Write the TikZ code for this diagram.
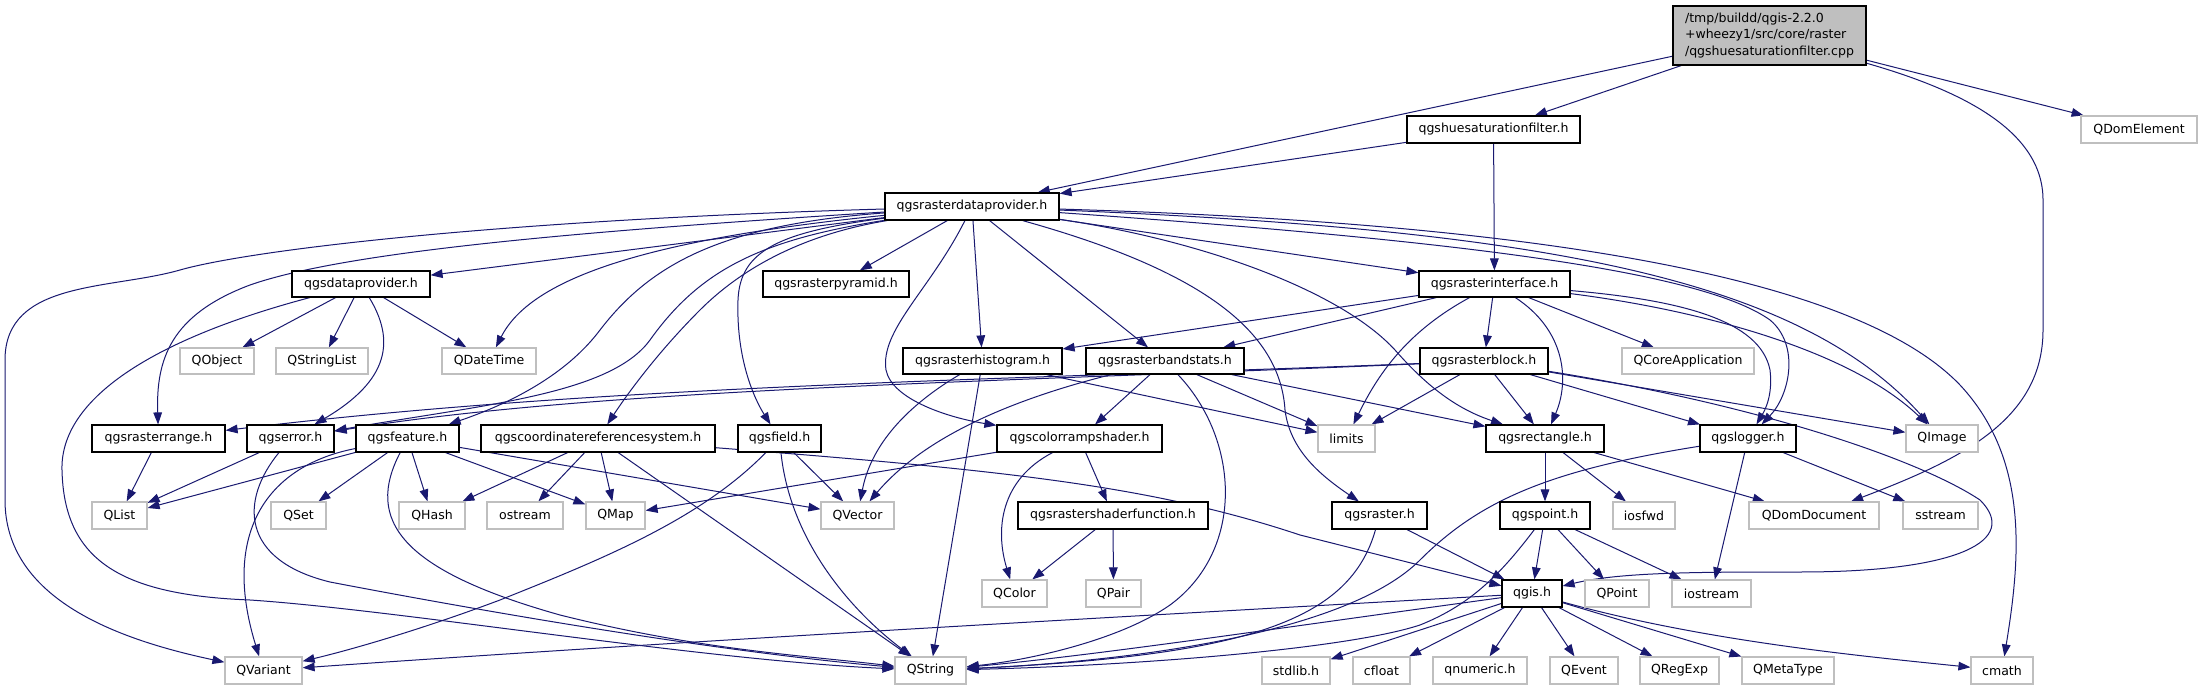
\documentclass[tikz,border=0pt]{standalone}
\usepackage{fontspec}
\newfontfamily\dvs{DejaVu Sans}
\usetikzlibrary{arrows.meta,backgrounds}
\definecolor{edgeblue}{HTML}{191970}
\definecolor{extgray}{HTML}{BFBFBF}
\definecolor{rootgray}{HTML}{BFBFBF}
\tikzset{
 nodefont/.style={font=\dvs\fontsize{9.4pt}{12.4pt}\selectfont},
 docbox/.style={draw=black, line width=0.9pt, fill=white, inner sep=0pt, nodefont},
 extbox/.style={draw=extgray, line width=0.9pt, fill=white, inner sep=0pt, nodefont},
 rootbox/.style={draw=black, line width=0.9pt, fill=rootgray, inner sep=0pt, align=left, nodefont},
 dep/.style={draw=edgeblue, line width=0.75pt, -{Triangle[length=9pt,width=6.5pt]}},
}
\newcommand\bx[7]{\node[#1, minimum width={(#5-#3)*0.75pt}, minimum height={(#6-#4)*0.75pt}] (#2) at ({(#3+#5)/2},{(#4+#6)/2}) {#7};}
\begin{document}
\begin{tikzpicture}[x=0.75pt,y=-0.75pt]
\useasboundingbox (0,0) rectangle (2201,691);
% nodes
\bx{rootbox}{root}{1673}{6}{1866}{65}{/tmp/buildd/qgis-2.2.0\\+wheezy1/src/core/raster\\/qgshuesaturationfilter.cpp}
\bx{docbox}{hsf}{1407}{116}{1580}{143}{qgshuesaturationfilter.h}
\bx{extbox}{qdomel}{2081}{116}{2197}{143}{QDomElement}
\bx{docbox}{rdp}{885}{193}{1059}{220}{qgsrasterdataprovider.h}
\bx{docbox}{dp}{292}{271}{430}{297}{qgsdataprovider.h}
\bx{docbox}{pyr}{763}{271}{909}{297}{qgsrasterpyramid.h}
\bx{docbox}{rif}{1419}{271}{1570}{297}{qgsrasterinterface.h}
\bx{extbox}{qobject}{180}{348}{254}{374}{QObject}
\bx{extbox}{qstrlist}{276}{348}{368}{374}{QStringList}
\bx{extbox}{qdatetime}{442}{348}{536}{374}{QDateTime}
\bx{docbox}{hist}{903}{348}{1062}{374}{qgsrasterhistogram.h}
\bx{docbox}{bstats}{1086}{348}{1244}{374}{qgsrasterbandstats.h}
\bx{docbox}{block}{1420}{348}{1548}{374}{qgsrasterblock.h}
\bx{extbox}{qcoreapp}{1622}{348}{1754}{374}{QCoreApplication}
\bx{docbox}{rrange}{92}{425}{225}{452}{qgsrasterrange.h}
\bx{docbox}{err}{247}{425}{334}{452}{qgserror.h}
\bx{docbox}{feat}{356}{425}{459}{452}{qgsfeature.h}
\bx{docbox}{crs}{481}{425}{715}{452}{qgscoordinatereferencesystem.h}
\bx{docbox}{field}{738}{425}{821}{452}{qgsfield.h}
\bx{docbox}{cshader}{997}{425}{1162}{452}{qgscolorrampshader.h}
\bx{extbox}{limits}{1318}{425}{1375}{452}{limits}
\bx{docbox}{rect}{1486}{425}{1604}{452}{qgsrectangle.h}
\bx{docbox}{logger}{1700}{425}{1796}{452}{qgslogger.h}
\bx{extbox}{qimage}{1906}{425}{1978}{452}{QImage}
\bx{extbox}{qlist}{92}{502}{147}{529}{QList}
\bx{extbox}{qset}{271}{502}{326}{529}{QSet}
\bx{extbox}{qhash}{399}{502}{465}{529}{QHash}
\bx{extbox}{ostream}{487}{502}{563}{529}{ostream}
\bx{extbox}{qmap}{586}{502}{645}{529}{QMap}
\bx{extbox}{qvector}{821}{502}{894}{529}{QVector}
\bx{docbox}{shfun}{1018}{502}{1208}{529}{qgsrastershaderfunction.h}
\bx{docbox}{raster}{1332}{502}{1427}{529}{qgsraster.h}
\bx{docbox}{point}{1500}{502}{1590}{529}{qgspoint.h}
\bx{extbox}{iosfwd}{1613}{502}{1675}{529}{iosfwd}
\bx{extbox}{qdomdoc}{1749}{502}{1879}{529}{QDomDocument}
\bx{extbox}{sstream}{1903}{502}{1978}{529}{sstream}
\bx{extbox}{qcolor}{982}{580}{1047}{607}{QColor}
\bx{extbox}{qpair}{1086}{580}{1141}{607}{QPair}
\bx{docbox}{qgis}{1502}{580}{1562}{607}{qgis.h}
\bx{extbox}{qpoint}{1585}{580}{1649}{607}{QPoint}
\bx{extbox}{iostream}{1672}{580}{1751}{607}{iostream}
\bx{extbox}{qvariant}{225}{657}{302}{684}{QVariant}
\bx{extbox}{qstring}{895}{657}{966}{684}{QString}
\bx{extbox}{stdlib}{1262}{657}{1330}{684}{stdlib.h}
\bx{extbox}{cfloat}{1353}{657}{1410}{684}{cfloat}
\bx{extbox}{qnumeric}{1433}{657}{1527}{684}{qnumeric.h}
\bx{extbox}{qevent}{1550}{657}{1618}{684}{QEvent}
\bx{extbox}{qregexp}{1640}{657}{1719}{684}{QRegExp}
\bx{extbox}{qmetatype}{1742}{657}{1834}{684}{QMetaType}
\bx{extbox}{cmath}{1971}{657}{2033}{684}{cmath}
\begin{scope}[on background layer]
\fill[white] (0,0) rectangle (2201,691);
% straight edges
\draw[dep] (root) -- (rdp);
\draw[dep] (root) -- (hsf);
\draw[dep] (root) -- (qdomel);
\draw[dep] (hsf) -- (rdp);
\draw[dep] (hsf) -- (rif);
\draw[dep] (rdp) -- (dp);
\draw[dep] (rdp) -- (pyr);
\draw[dep] (rdp) -- (hist);
\draw[dep] (rdp) -- (bstats);
\draw[dep] (rdp) -- (rif);
\draw[dep] (dp) -- (qobject);
\draw[dep] (dp) -- (qstrlist);
\draw[dep] (dp) -- (qdatetime);
\draw[dep] (rrange) -- (qlist);
\draw[dep] (err) -- (qlist);
\draw[dep] (feat) -- (qlist);
\draw[dep] (feat) -- (qset);
\draw[dep] (feat) -- (qhash);
\draw[dep] (feat) -- (qmap);
\draw[dep] (feat) -- (qvector);
\draw[dep] (crs) -- (qhash);
\draw[dep] (crs) -- (ostream);
\draw[dep] (crs) -- (qmap);
\draw[dep] (crs) -- (qstring);
\draw[dep] (field) -- (qvector);
\draw[dep] (hist) -- (qstring);
\draw[dep] (hist) -- (limits);
\draw[dep] (bstats) -- (cshader);
\draw[dep] (bstats) -- (limits);
\draw[dep] (bstats) -- (rect);
\draw[dep] (rif) -- (hist);
\draw[dep] (rif) -- (bstats);
\draw[dep] (rif) -- (block);
\draw[dep] (rif) -- (qcoreapp);
\draw[dep] (block) -- (limits);
\draw[dep] (block) -- (rect);
\draw[dep] (block) -- (logger);
\draw[dep] (block) -- (qimage);
\draw[dep] (cshader) -- (qmap);
\draw[dep] (cshader) -- (shfun);
\draw[dep] (shfun) -- (qcolor);
\draw[dep] (shfun) -- (qpair);
\draw[dep] (raster) -- (qgis);
\draw[dep] (rect) -- (point);
\draw[dep] (rect) -- (iosfwd);
\draw[dep] (rect) -- (qdomdoc);
\draw[dep] (logger) -- (iostream);
\draw[dep] (logger) -- (sstream);
\draw[dep] (point) -- (qgis);
\draw[dep] (point) -- (qpoint);
\draw[dep] (point) -- (iostream);
\draw[dep] (qgis) -- (stdlib);
\draw[dep] (qgis) -- (cfloat);
\draw[dep] (qgis) -- (qnumeric);
\draw[dep] (qgis) -- (qevent);
\draw[dep] (qgis) -- (qregexp);
\draw[dep] (qgis) -- (qmetatype);
% curved edges
\draw[dep] (root) .. controls (1960,90) and (2043,130) .. (2043,200) -- (2043,330) .. controls (2043,420) and (1960,460) .. (qdomdoc);
\draw[dep] (rdp) .. controls (500,220) and (250,250) .. (180,270) .. controls (110,290) and (5,280) .. (5,360) -- (5,500) .. controls (5,600) and (120,640) .. (qvariant);
\draw[dep] (rdp) .. controls (600,230) and (350,250) .. (250,285) .. controls (170,315) and (156,360) .. (rrange);
\draw[dep] (rdp) .. controls (640,240) and (530,280) .. (qdatetime);
\draw[dep] (rdp) .. controls (720,225) and (650,265) .. (600,330) .. controls (570,370) and (520,400) .. (feat);
\draw[dep] (rdp) .. controls (760,240) and (700,270) .. (650,340) .. controls (610,395) and (480,405) .. (err);
\draw[dep] (rdp) .. controls (800,235) and (740,270) .. (700,310) .. controls (660,350) and (630,390) .. (crs);
\draw[dep] (rdp) .. controls (780,232) and (740,250) .. (738,300) .. controls (736,360) and (755,400) .. (field);
\draw[dep] (rdp) .. controls (930,290) and (880,330) .. (886,370) .. controls (892,400) and (950,418) .. (cshader);
\draw[dep] (rdp) .. controls (1200,270) and (1280,330) .. (1285,410) .. controls (1290,450) and (1320,475) .. (raster);
\draw[dep] (rdp) .. controls (1200,240) and (1340,290) .. (1395,350) .. controls (1430,390) and (1460,410) .. (rect);
\draw[dep] (rdp) .. controls (1450,240) and (1700,270) .. (1770,320) .. controls (1800,345) and (1790,395) .. (logger);
\draw[dep] (rdp) .. controls (1550,230) and (1800,280) .. (qimage);
\draw[dep] (rdp) .. controls (1500,222) and (1850,270) .. (1960,385) .. controls (2030,460) and (2020,560) .. (cmath);
\draw[dep] (dp) .. controls (395,340) and (390,380) .. (err);
\draw[dep] (dp) .. controls (150,340) and (60,400) .. (62,470) .. controls (64,560) and (120,595) .. (250,600) .. controls (400,610) and (700,660) .. (qstring);
\draw[dep] (err) .. controls (240,500) and (240,560) .. (330,582) .. controls (450,605) and (700,650) .. (qstring);
\draw[dep] (feat) .. controls (270,465) and (220,530) .. (qvariant);
\draw[dep] (feat) .. controls (365,520) and (400,570) .. (560,615) .. controls (700,650) and (800,655) .. (qstring);
\draw[dep] (crs) .. controls (1000,470) and (1150,485) .. (1300,535) -- (qgis);
\draw[dep] (field) .. controls (700,520) and (600,560) .. (500,600) .. controls (420,630) and (350,650) .. (qvariant);
\draw[dep] (field) .. controls (790,540) and (850,610) .. (qstring);
\draw[dep] (hist) .. controls (900,410) and (870,450) .. (qvector);
\draw[dep] (bstats) .. controls (1240,440) and (1245,550) .. (1170,605) .. controls (1120,640) and (1030,660) .. (qstring);
\draw[dep] (bstats) .. controls (1030,395) and (930,430) .. (qvector);
\draw[dep] (rif) .. controls (1410,330) and (1380,370) .. (limits);
\draw[dep] (rif) .. controls (1565,330) and (1570,380) .. (rect);
\draw[dep] (rif) .. controls (1680,300) and (1760,320) .. (1770,370) .. controls (1773,395) and (1765,410) .. (logger);
\draw[dep] (rif) .. controls (1700,310) and (1850,350) .. (qimage);
\draw[dep] (block) .. controls (1000,380) and (600,385) .. (rrange);
\draw[dep] (block) .. controls (1000,382) and (600,388) .. (err);
\draw[dep] (block) .. controls (1760,405) and (1920,460) .. (1980,500) .. controls (2020,540) and (1960,572) .. (1800,572) .. controls (1700,572) and (1620,572) .. (qgis);
\draw[dep] (cshader) .. controls (1000,480) and (995,530) .. (qcolor);
\draw[dep] (raster) .. controls (1350,620) and (1250,655) .. (qstring);
\draw[dep] (logger) .. controls (1550,470) and (1480,500) .. (1420,560) .. controls (1350,630) and (1150,660) .. (qstring);
\draw[dep] (point) .. controls (1500,575) and (1470,605) .. (1420,625) .. controls (1350,648) and (1150,665) .. (qstring);
\draw[dep] (qgis) .. controls (1100,618) and (700,640) .. (qvariant);
\draw[dep] (qgis) .. controls (1300,625) and (1100,655) .. (qstring);
\draw[dep] (qgis) .. controls (1700,640) and (1850,655) .. (cmath);
\end{scope}
\end{tikzpicture}
\end{document}
